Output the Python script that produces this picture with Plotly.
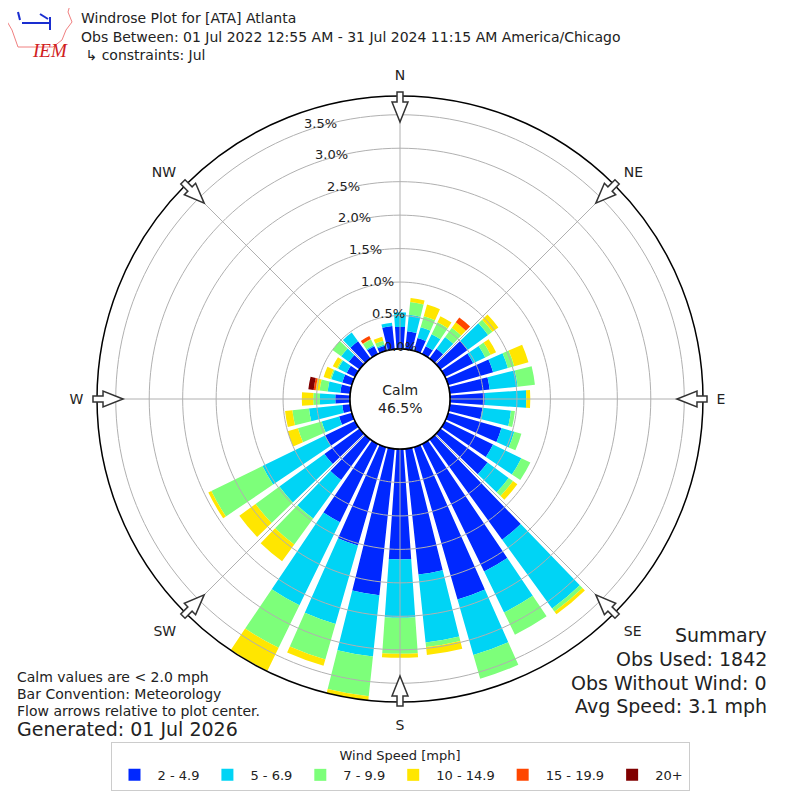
import numpy as np
import plotly.graph_objects as go

# wind direction bins (deg, meteorological, 10 deg sectors)
directions = list(range(0, 360, 10))
speed_bins = ["2 - 4.9", "5 - 6.9", "7 - 9.9", "10 - 14.9", "15 - 19.9", "20+"]
bin_colors = ["#0028ff", "#00d4f5", "#7dff7a", "#ffe600", "#ff4600", "#800000"]

# percent of observations per direction for each speed bin
pct_2_5 = [0.33, 0.27, 0.20, 0.13, 0.18, 0.50, 0.47, 0.70, 0.60, 0.52, 0.49, 0.83,
           0.80, 0.87, 1.85, 2.12, 2.37, 1.89, 1.65, 2.20, 1.53, 1.30, 0.75, 0.65,
           0.50, 0.20, 0.12, 0.22, 0.15, 0.15, 0.14, 0.20, 0.32, 0.13, 0.08, 0.35]
pct_5_7 = [0.22, 0.25, 0.17, 0.20, 0.22, 0.38, 0.20, 0.23, 0.42, 0.62, 0.43, 0.20,
           0.47, 0.39, 1.27, 0.68, 0.86, 1.02, 0.87, 0.92, 1.22, 1.38, 0.71, 0.83,
           1.04, 0.27, 0.50, 0.23, 0.19, 0.17, 0.14, 0.14, 0.16, 0.02, 0.02, 0.05]
pct_7_10 = [0.00, 0.19, 0.17, 0.20, 0.17, 0.08, 0.09, 0.10, 0.26, 0.00, 0.06, 0.11,
            0.15, 0.08, 0.06, 0.37, 0.37, 0.07, 0.54, 0.60, 0.55, 0.71, 0.48, 0.44,
            0.85, 0.37, 0.25, 0.10, 0.12, 0.02, 0.02, 0.16, 0.00, 0.09, 0.06, 0.00]
pct_10_15 = [0.00, 0.06, 0.18, 0.10, 0.10, 0.11, 0.09, 0.22, 0.00, 0.06, 0.00, 0.00,
             0.00, 0.08, 0.05, 0.00, 0.00, 0.12, 0.06, 0.06, 0.10, 0.38, 0.31, 0.30,
             0.05, 0.16, 0.11, 0.17, 0.06, 0.10, 0.07, 0.00, 0.00, 0.01, 0.06, 0.00]
pct_15_20 = [0.00, 0.00, 0.00, 0.00, 0.09, 0.00, 0.00, 0.00, 0.00, 0.00, 0.00, 0.00,
             0.00, 0.00, 0.00, 0.00, 0.00, 0.00, 0.00, 0.00, 0.00, 0.00, 0.00, 0.00,
             0.00, 0.00, 0.00, 0.00, 0.03, 0.00, 0.00, 0.00, 0.00, 0.05, 0.00, 0.00]
pct_20_up = [0.00, 0.00, 0.00, 0.00, 0.00, 0.00, 0.00, 0.00, 0.00, 0.00, 0.00, 0.00,
             0.00, 0.00, 0.00, 0.00, 0.00, 0.00, 0.00, 0.00, 0.00, 0.00, 0.00, 0.00,
             0.00, 0.00, 0.00, 0.00, 0.08, 0.00, 0.00, 0.00, 0.00, 0.00, 0.00, 0.00]

radial_ticks = [0.0, 0.5, 1.0, 1.5, 2.0, 2.5, 3.0, 3.5]
compass_deg = [0, 45, 90, 135, 180, 225, 270, 315]
compass_lbl = ["N", "NE", "E", "SE", "S", "SW", "W", "NW"]
calm_pct = 46.5

series = [pct_2_5, pct_5_7, pct_7_10, pct_10_15, pct_15_20, pct_20_up]
rmax = 3.78

FONT = "DejaVu Sans"
OFF = 8                 # page body margin around the plot div
W = H = 800 - 2 * OFF
cx, cy, R, hole_px = 400 - OFF, 399 - OFF, 303, 50
px_per_pct = (R - hole_px) / rmax


def px(x):
    return (x - OFF) / W


def py(y):
    return 1 - (y - OFF) / H


fig = go.Figure()
for name, vals, col in zip(speed_bins, series, bin_colors):
    fig.add_trace(go.Barpolar(r=vals, theta=directions, width=8, name=name,
                              marker=dict(color=col, line=dict(width=0)),
                              hoverinfo="skip"))

# grid drawn over the bars like the original
ring_theta = np.arange(0, 361, 2)
for t in radial_ticks:
    fig.add_trace(go.Scatterpolar(r=[t] * len(ring_theta), theta=ring_theta, mode="lines",
                                  line=dict(color="black" if t == 0 else "#b0b0b0",
                                            width=1.5 if t == 0 else 1),
                                  showlegend=False, hoverinfo="skip"))
spoke_r, spoke_t = [], []
for d in compass_deg:
    spoke_r += [0, rmax, None]
    spoke_t += [d, d, None]
fig.add_trace(go.Scatterpolar(r=spoke_r, theta=spoke_t, mode="lines",
                              line=dict(color="#b0b0b0", width=1),
                              showlegend=False, hoverinfo="skip"))

fig.update_layout(
    width=W, height=H, margin=dict(l=0, r=0, t=0, b=0),
    paper_bgcolor="white", plot_bgcolor="white",
    font=dict(family=FONT, size=13, color="#222"),
    polar=dict(
        domain=dict(x=[(cx - R) / W, (cx + R) / W], y=[1 - (cy + R) / H, 1 - (cy - R) / H]),
        hole=hole_px / R,
        bgcolor="white",
        radialaxis=dict(range=[0, rmax], showgrid=False, showline=False,
                        showticklabels=False, ticks=""),
        angularaxis=dict(rotation=90, direction="clockwise", showgrid=False,
                         showline=True, linecolor="black", linewidth=1.5,
                         tickmode="array", tickvals=compass_deg, ticktext=compass_lbl,
                         ticks="outside", ticklen=10, tickcolor="rgba(0,0,0,0)",
                         tickfont=dict(family=FONT, size=14, color="#222")),
    ),
    legend=dict(orientation="h", x=px(400), xanchor="center", y=py(742), yanchor="top",
                title=dict(text="Wind Speed [mph]", side="top center",
                           font=dict(family=FONT, size=13)),
                font=dict(family=FONT, size=13), bgcolor="white",
                bordercolor="#cccccc", borderwidth=1, itemwidth=36,
                traceorder="normal"),
    showlegend=True,
)

# radial tick labels, stepping up-left from the north spoke like matplotlib's rlabels
for t in radial_ticks:
    rp = hole_px + t * px_per_pct + 3
    dx = 0.34 * (rp - hole_px - 3)
    lx = cx - dx
    ly = cy - np.sqrt(rp ** 2 - dx ** 2)
    fig.add_annotation(x=lx / W, y=1 - ly / H, xref="paper", yref="paper",
                       xanchor="center", yanchor="middle",
                       text="%.1f%%" % t, showarrow=False,
                       font=dict(family=FONT, size=13, color="#222"))

# hollow compass arrows pointing to the plot center
arrow_pts = [(277, 0), (297, 8), (297, 3), (307, 3), (307, -3), (297, -3), (297, -8)]
for d in compass_deg:
    a = np.radians(d)
    ux, uy = np.sin(a), -np.cos(a)
    vx, vy = np.cos(a), np.sin(a)
    path = ""
    for i, (s, t) in enumerate(arrow_pts):
        x = cx + s * ux + t * vx
        y = cy + s * uy + t * vy
        path += ("M" if i == 0 else "L") + "%.4f,%.4f " % (x / W, 1 - y / H)
    fig.add_shape(type="path", path=path + "Z", xref="paper", yref="paper",
                  fillcolor="white", line=dict(color="#333", width=1.5), layer="above")


def note(x, y, text, size=14, anchor="left"):
    fig.add_annotation(x=px(x), y=py(y), xref="paper", yref="paper", text=text,
                       showarrow=False, xanchor=anchor, yanchor="middle",
                       font=dict(family=FONT, size=size, color="#222"), align=anchor)


note(79, 18, "Windrose Plot for [ATA] Atlanta")
note(79, 37, "Obs Between: 01 Jul 2022 12:55 AM - 31 Jul 2024 11:15 AM America/Chicago")
note(79, 55, " ↳ constraints: Jul")
note(15, 677, "Calm values are < 2.0 mph")
note(15, 694, "Bar Convention: Meteorology")
note(15, 711, "Flow arrows relative to plot center.")
note(15, 729, "Generated: 01 Jul 2026", size=19)
note(769, 635, "Summary", size=19, anchor="right")
note(769, 659, "Obs Used: 1842", size=19, anchor="right")
note(769, 683, "Obs Without Wind: 0", size=19, anchor="right")
note(769, 706, "Avg Speed: 3.1 mph", size=19, anchor="right")
fig.add_annotation(x=px(400), y=py(399), xref="paper", yref="paper",
                   text="Calm<br>%.1f%%" % calm_pct, showarrow=False,
                   font=dict(family=FONT, size=14, color="#222"))

# IEM logo (rough)
logo = [(3, 5), (70, 5), (68, 12), (72, 22), (66, 30), (62, 40), (53, 47),
        (18, 47), (12, 30), (5, 18)]
fig.add_shape(type="path", xref="paper", yref="paper", layer="above",
              path="M" + " L".join("%f,%f" % (px(a), py(b)) for a, b in logo) + " Z",
              line=dict(color="#f08080", width=1))
for (x0, y0, x1, y1) in [(22, 23, 50, 23), (50, 17, 50, 30), (40, 14, 48, 19), (18, 12, 20, 20)]:
    fig.add_shape(type="line", xref="paper", yref="paper", x0=px(x0), y0=py(y0),
                  x1=px(x1), y1=py(y1), line=dict(color="#1a2ed0", width=2))
fig.add_annotation(x=px(30), y=py(38), xref="paper", yref="paper", text="<i>IEM</i>",
                   showarrow=False, font=dict(family="Liberation Serif", size=19, color="#d02020"))

fig.write_html("out.html")
